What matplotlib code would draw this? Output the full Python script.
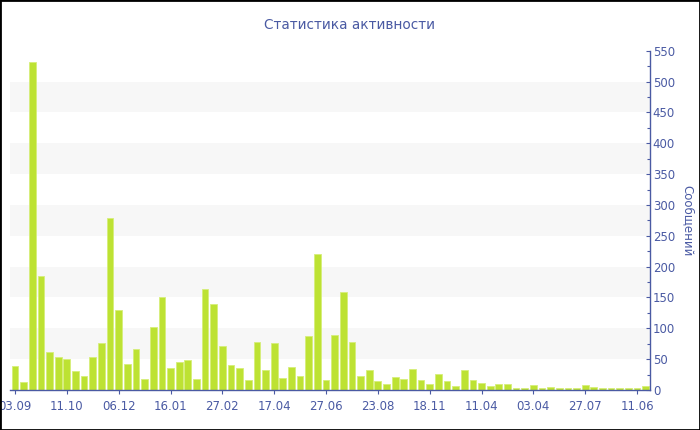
import matplotlib
matplotlib.use("Agg")
import matplotlib.pyplot as plt
from matplotlib.patches import Rectangle
import numpy as np

title = "Статистика активности"
y_label = "Сообщений"
values = [39, 13, 532, 184, 61, 54, 51, 30, 22, 54,
          76, 278, 130, 42, 67, 18, 102, 150, 36, 46,
          48, 18, 164, 140, 72, 41, 35, 17, 77, 32,
          76, 19, 37, 23, 87, 220, 16, 89, 159, 78,
          22, 32, 15, 10, 21, 18, 34, 17, 9, 26,
          15, 6, 33, 16, 12, 7, 10, 10, 4, 4,
          8, 4, 5, 4, 4, 3, 8, 5, 4, 3,
          3, 3, 3, 6]
tick_labels = ["03.09", "11.10", "06.12", "16.01", "27.02", "17.04", "27.06",
               "23.08", "18.11", "11.04", "03.04", "27.07", "11.06"]
tick_step = 6

blue = "#4A5AA3"
bar_color = "#BDE233"

fig = plt.figure(figsize=(7.0, 4.3), dpi=100)
ax = fig.add_axes([10/700, 40/430, 640/700, (390-50.7)/430])

x = np.arange(len(values))
ax.set_xlim(-0.58, len(values) - 0.5)
ax.set_ylim(0, 550)

for lo in range(50, 550, 100):
    ax.axhspan(lo, lo + 50, color="#F7F7F7", zorder=0, lw=0)

ax.bar(x, values, width=0.78, color=bar_color, edgecolor="#D6EE7A", linewidth=0.6, zorder=2)

ax.yaxis.tick_right()
ax.yaxis.set_label_position("right")
ax.set_yticks(np.arange(0, 551, 50))
ax.set_yticks(np.arange(25, 551, 50), minor=True)
ax.tick_params(axis="y", which="both", direction="in", length=3, color=blue,
               labelcolor=blue, labelsize=8.5, pad=2, width=0.8)
ax.tick_params(axis="y", which="minor", length=2)

xt = x[::tick_step]
ax.set_xticks(xt)
ax.set_xticklabels(tick_labels)
ax.tick_params(axis="x", direction="out", length=3, color=blue, labelcolor=blue,
               labelsize=8.5, pad=4, width=0.8)

for s in ["top", "left"]:
    ax.spines[s].set_visible(False)
for s in ["bottom", "right"]:
    ax.spines[s].set_color(blue)
    ax.spines[s].set_linewidth(1.0)

ax.set_ylabel(y_label, color=blue, fontsize=8.5, rotation=270, labelpad=14)
fig.text(0.5, 1 - 25/430, title, ha="center", va="center", color=blue, fontsize=9.8)

fig.patches.append(Rectangle((0, 0), 1, 1, transform=fig.transFigure, fill=False,
                             edgecolor="black", linewidth=2, zorder=10))

fig.savefig("out.png", dpi=100)
